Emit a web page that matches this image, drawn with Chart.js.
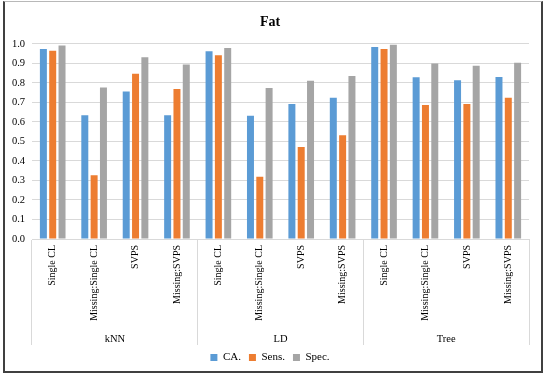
<!DOCTYPE html>
<html>
<head>
<meta charset="utf-8">
<script src="https://cdn.jsdelivr.net/npm/chart.js@4.4.1/dist/chart.umd.min.js"></script>
<style>
	body { margin: 0; background: #fff; }
	#wrap { position: relative; width: 550px; height: 377px; }
	#frame {
		position: absolute; left: 3px; top: 1px; width: 540px; height: 372px;
		box-sizing: border-box; border: 2px solid #404040; border-top: 1px solid #b8b8b8;
		pointer-events: none;
	}
</style>
</head>
<body>
<div id="wrap">
	<canvas id="fatChart" width="550" height="377"></canvas>
	<div id="frame"></div>
</div>
<script>
// data
const categories = [
	'Single CL', 'Missing:Single CL', 'SVPS', 'Missing:SVPS',
	'Single CL', 'Missing:Single CL', 'SVPS', 'Missing:SVPS',
	'Single CL', 'Missing:Single CL', 'SVPS', 'Missing:SVPS'
];
const groups = ['kNN', 'LD', 'Tree'];
const caValues = [0.974, 0.634, 0.756, 0.634, 0.962, 0.631, 0.692, 0.723, 0.984, 0.828, 0.813, 0.830];
const sensValues = [0.964, 0.326, 0.846, 0.768, 0.941, 0.319, 0.471, 0.532, 0.974, 0.686, 0.692, 0.724];
const specValues = [0.991, 0.776, 0.931, 0.894, 0.979, 0.773, 0.811, 0.835, 0.995, 0.899, 0.887, 0.903];
const yTicks = [0, 0.1, 0.2, 0.3, 0.4, 0.5, 0.6, 0.7, 0.8, 0.9, 1.0];

const serif = "'Liberation Serif', 'Times New Roman', serif";
const gridColor = '#d9d9d9';

function makeSet(label, data, color) {
	return {
		label: label,
		data: data,
		backgroundColor: color,
		borderWidth: 0,
		categoryPercentage: 0.675,
		barPercentage: 0.75
	};
}

new Chart(document.getElementById('fatChart'), {
	type: 'bar',
	data: {
		labels: categories,
		datasets: [
			makeSet('CA.', caValues, '#5b9bd5'),
			makeSet('Sens.', sensValues, '#ed7d31'),
			makeSet('Spec.', specValues, '#a5a5a5')
		]
	},
	options: {
		responsive: false,
		animation: false,
		layout: { padding: { left: 11, right: 21, top: 0, bottom: 4 } },
		plugins: {
			title: {
				display: true,
				text: 'Fat',
				color: '#000',
				font: { family: serif, size: 14, weight: 'bold' },
				padding: { top: 14, bottom: 13 }
			},
			legend: {
				position: 'bottom',
				labels: {
					color: '#000',
					font: { family: serif, size: 11 },
					boxWidth: 7,
					boxHeight: 7,
					padding: 8
				}
			},
			tooltip: { enabled: false }
		},
		scales: {
			x: {
				weight: 0,
				offset: true,
				grid: {
					offset: true,
					drawOnChartArea: false,
					tickLength: 106,
					color: ctx => (ctx.index === undefined || ctx.index % 4 === 0) ? gridColor : 'rgba(0,0,0,0)'
				},
				border: { display: true, color: gridColor },
				ticks: {
					color: '#000',
					font: { family: serif, size: 10 },
					autoSkip: false,
					minRotation: 90,
					maxRotation: 90,
					padding: -100
				},
				afterFit: s => { s.height = 84; }
			},
			x2: {
				type: 'category',
				position: 'bottom',
				weight: 1,
				labels: groups,
				offset: true,
				grid: { display: false },
				border: { display: false },
				ticks: {
					color: '#000',
					font: { family: serif, size: 10.5 },
					padding: 2
				},
				afterFit: s => { s.height = 21; }
			},
			y: {
				min: 0,
				max: 1,
				afterBuildTicks: s => { s.ticks = yTicks.map(v => ({ value: v })); },
				grid: { color: gridColor, drawTicks: false },
				border: { display: false },
				ticks: {
					color: '#000',
					font: { family: serif, size: 10.5 },
					padding: 7,
					callback: v => v.toFixed(1)
				},
				afterFit: s => { s.width = 21; }
			}
		}
	}
});
</script>
</body>
</html>
